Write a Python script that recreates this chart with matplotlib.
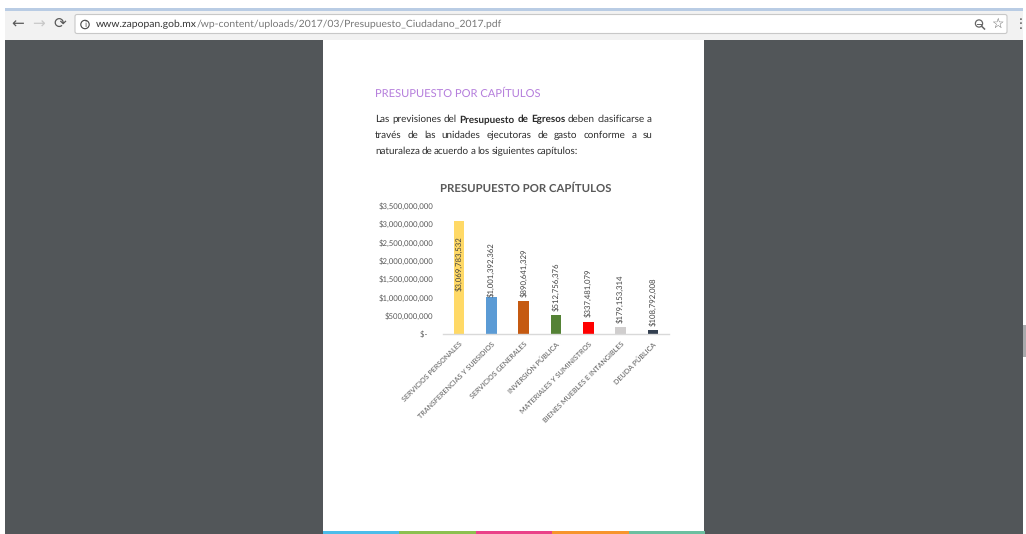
import matplotlib
matplotlib.use('Agg')
import matplotlib.pyplot as plt
from matplotlib.patches import Rectangle, FancyBboxPatch, Circle
from matplotlib.ticker import FuncFormatter

W = 1026
H = 534

categories = ['SERVICIOS PERSONALES', 'TRANSFERENCIAS Y SUBSIDIOS', 'SERVICIOS GENERALES',
              'INVERSIÓN PÚBLICA', 'MATERIALES Y SUMINISTROS', 'BIENES MUEBLES E INTANGIBLES',
              'DEUDA PÚBLICA']
values = [3069783532, 1001392362, 890641329, 512756376, 337481079, 179153314, 108792008]
bar_colors = ['#FFD966', '#5B9BD5', '#C55A11', '#548235', '#FF0000', '#D0CECE', '#333F50']
yticks = [0, 500000000, 1000000000, 1500000000, 2000000000, 2500000000, 3000000000, 3500000000]
footer_colors = ['#4DBDEA', '#8CC04F', '#EA4289', '#F7952D', '#6CBFA0']

plt.rcParams['font.family'] = ['Lato', 'DejaVu Sans']
plt.rcParams['text.hinting'] = 'none'

fig = plt.figure(figsize=(W / 100, H / 100), dpi=100, facecolor='white')

# page and browser window, in pixels
bg = fig.add_axes([0, 0, 1, 1])
bg.set_xlim(0, W)
bg.set_ylim(H, 0)
bg.axis('off')

bg.add_patch(Rectangle((5, 40), 1018, 494, color='#525659', lw=0))
bg.add_patch(Rectangle((5, 11), 1018, 29, color='#F2F2F2', lw=0))
bg.add_patch(Rectangle((5, 8), 1018, 3, color='#B9CCE4', lw=0))
bg.add_patch(FancyBboxPatch((75, 14.5), 932, 19, boxstyle='round,pad=0,rounding_size=2',
                            fc='white', ec='#C8C8C8', lw=0.8))
bg.add_patch(Rectangle((1023, 325), 3, 32, color='#A9ABAD', lw=0))

bg.text(18, 24.5, '←', fontsize=11, color='#5A5A5A', ha='center', va='center', family='DejaVu Sans')
bg.text(39, 24.5, '→', fontsize=11, color='#C8C8C8', ha='center', va='center', family='DejaVu Sans')
bg.text(60, 24.5, '⟳', fontsize=11, color='#5A5A5A', ha='center', va='center', family='DejaVu Sans')
bg.add_patch(Circle((85, 24.5), 4.2, fc='none', ec='#444444', lw=0.8))
bg.text(85, 24.7, 'i', fontsize=5.5, color='#444444', ha='center', va='center', family='DejaVu Sans')
url1 = bg.text(96, 24.5, 'www.zapopan.gob.mx', fontsize=7.45, color='#333333', va='center')
fig.canvas.draw()
x_url = bg.transData.inverted().transform(url1.get_window_extent().get_points())[1][0]
bg.text(x_url, 24.5, '/wp-content/uploads/2017/03/Presupuesto_Ciudadano_2017.pdf', fontsize=7.45,
        color='#777777', va='center')
bg.add_patch(Circle((979, 23.5), 3.6, fc='none', ec='#666666', lw=0.9))
bg.plot([977.3, 980.7], [23.5, 23.5], color='#666666', lw=0.7)
bg.plot([981.6, 984.5], [26.2, 29], color='#666666', lw=1.1)
bg.text(997, 24.5, '☆', fontsize=10, color='#555555', ha='center', va='center', family='DejaVu Sans')
bg.text(1021, 24.5, '⋮', fontsize=10, color='#555555', ha='center', va='center', family='DejaVu Sans')

bg.add_patch(Rectangle((323, 40), 381, 494, color='white', lw=0))
for i, c in enumerate(footer_colors):
    bg.add_patch(Rectangle((323 + i * 76.4, 531), 76.4, 3, color=c, lw=0))

bg.text(375, 93.5, 'PRESUPUESTO POR CAPÍTULOS', fontsize=8.05, color='#B57EDC', va='center')


def justified(words, x0, x1, y):
    # place words one by one so the line fills x0..x1
    inv = bg.transData.inverted()
    items = []
    total = 0
    for word, weight in words:
        t = bg.text(x0, y, word, fontsize=7.1, color='#2B2B2B', va='center', fontweight=weight)
        a = inv.transform(t.get_window_extent().get_points())
        items.append((t, a[1][0] - a[0][0]))
        total += a[1][0] - a[0][0]
    gap = (x1 - x0 - total) / (len(words) - 1)
    x = x0
    for t, w in items:
        t.set_x(x)
        x += w + gap


line1 = [('Las', 'normal'), ('previsiones', 'normal'), ('del', 'normal'), ('Presupuesto', 'bold'),
         ('de', 'bold'), ('Egresos', 'bold'), ('deben', 'normal'), ('clasificarse', 'normal'), ('a', 'normal')]
line2 = [(w, 'normal') for w in 'través de las unidades ejecutoras de gasto conforme a su'.split()]
line3 = [(w, 'normal') for w in 'naturaleza de acuerdo a los siguientes capítulos:'.split()]
justified(line1, 375, 652, 119.5)
justified(line2, 375, 652, 135.5)
justified(line3, 375, 578, 151.5)

bg.text(525.5, 189, 'PRESUPUESTO POR CAPÍTULOS', fontsize=8.2, color='#595959', ha='center', va='center',
        fontweight='bold')

# the bar chart itself
ax = fig.add_axes([443 / W, 1 - 334 / H, 226 / W, 128.3 / H])
ax.patch.set_alpha(0)
x = list(range(len(values)))
ax.bar(x, values, width=0.33, color=bar_colors)
ax.set_xlim(-0.5, 6.5)
ax.set_ylim(0, 3500000000)
ax.set_yticks(yticks)


def money(v, pos):
    if v == 0:
        return '$-   '
    return '${:,.0f}'.format(v)


ax.yaxis.set_major_formatter(FuncFormatter(money))
ax.set_xticks(x)
ax.set_xticklabels(categories, rotation=45, ha='right', rotation_mode='anchor')
ax.tick_params(axis='y', length=0, pad=7, labelsize=5.6, labelcolor='#595959')
ax.tick_params(axis='x', length=0, pad=5, labelsize=5.15, labelcolor='#595959')
for side in ['top', 'right', 'left']:
    ax.spines[side].set_visible(False)
ax.spines['bottom'].set_color('#D9D9D9')
ax.spines['bottom'].set_linewidth(1)

for i, v in enumerate(values):
    label = '${:,.0f}'.format(v)
    if i == 0:
        ax.text(i, v * 0.63, label, rotation=90, ha='center', va='center', fontsize=5.6, color='#404040')
    else:
        off = 0 if i == 1 else 3
        ax.annotate(label, (i, v), xytext=(0, off), textcoords='offset points', rotation=90,
                    ha='center', va='bottom', fontsize=5.6, color='#404040')

fig.savefig('out.png', dpi=100)
